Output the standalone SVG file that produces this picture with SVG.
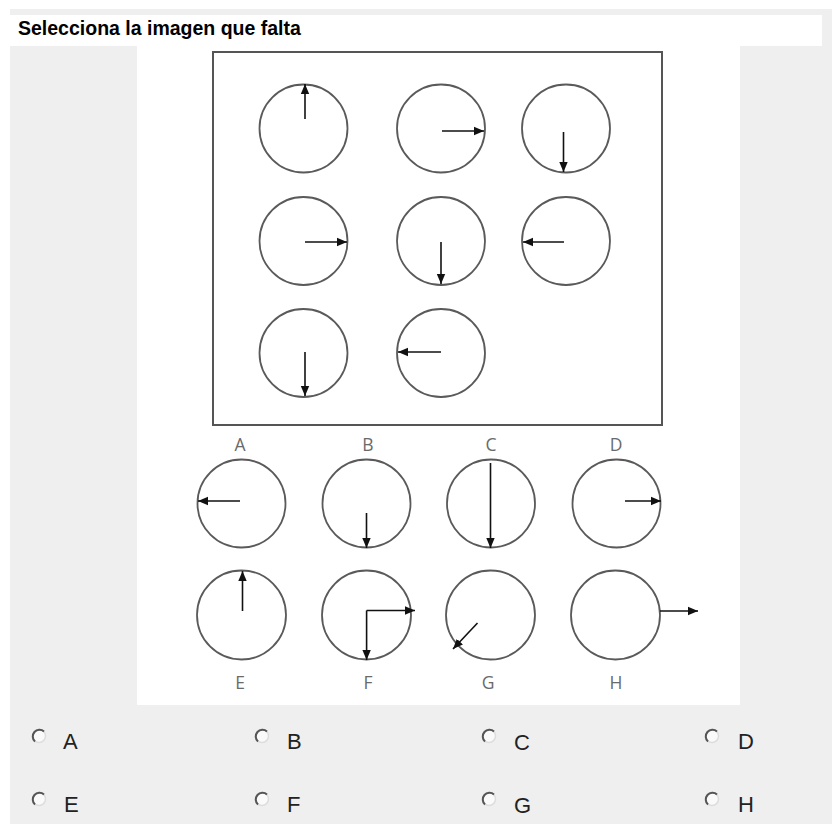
<svg xmlns="http://www.w3.org/2000/svg" width="837" height="824" viewBox="0 0 837 824">
<defs>
<marker id="ah" viewBox="0 0 10 10" refX="10" refY="5" markerWidth="10" markerHeight="10" markerUnits="userSpaceOnUse" orient="auto">
<path d="M0,0.8 L10,5 L0,9.2 z" fill="#111"/>
</marker>
<style>
.ring{fill:none;stroke:#5a5a5a;stroke-width:1.8}
.arr{stroke:#111;stroke-width:1.6;fill:none;marker-end:url(#ah)}
.frame{fill:none;stroke:#555;stroke-width:2}
.lbl{font-family:"Open Sans","Noto Sans",sans-serif;font-size:17.5px;fill:#6a6a6a;text-anchor:middle}
.opt{font-family:"Liberation Sans",Arial,sans-serif;font-size:22px;fill:#222}
.title{font-family:"Liberation Sans",Arial,sans-serif;font-size:19.5px;font-weight:bold;fill:#000}
.rb{fill:#fafafa;stroke:#ddd;stroke-width:1.5}
.rbd{fill:none;stroke:#555;stroke-width:2}
</style>
</defs>
<rect x="0" y="0" width="837" height="824" fill="#ffffff"/>
<rect x="10" y="9" width="822" height="815" fill="#efefef"/>
<rect x="10" y="15" width="812" height="31" fill="#ffffff"/>
<rect x="137" y="45" width="603" height="660" fill="#ffffff"/>
<text class="title" x="18" y="35">Selecciona la imagen que falta</text>
<rect class="frame" x="213" y="52" width="449" height="373"/>

<g id="g1"><circle class="ring" cx="303.5" cy="128.5" r="44"/><line class="arr" x1="305" y1="119" x2="305" y2="84"/></g>
<g id="g2"><circle class="ring" cx="441" cy="128.5" r="44"/><line class="arr" x1="442" y1="131" x2="484" y2="131"/></g>
<g id="g3"><circle class="ring" cx="566" cy="128.5" r="44"/><line class="arr" x1="563.5" y1="132" x2="563.5" y2="172"/></g>
<g id="g4"><circle class="ring" cx="303.5" cy="241" r="44"/><line class="arr" x1="305" y1="242" x2="347" y2="242"/></g>
<g id="g5"><circle class="ring" cx="441" cy="241" r="44"/><line class="arr" x1="441" y1="242" x2="441" y2="284"/></g>
<g id="g6"><circle class="ring" cx="566" cy="241" r="44"/><line class="arr" x1="564" y1="242" x2="523" y2="242"/></g>
<g id="g7"><circle class="ring" cx="303.5" cy="353" r="44"/><line class="arr" x1="305" y1="352" x2="305" y2="396"/></g>
<g id="g8"><circle class="ring" cx="441" cy="353" r="44"/><line class="arr" x1="441" y1="352" x2="398" y2="352"/></g>

<g id="optA"><text class="lbl" x="240" y="451">A</text><circle class="ring" cx="241.5" cy="503.5" r="44"/><line class="arr" x1="240" y1="501" x2="198" y2="501"/></g>
<g id="optB"><text class="lbl" x="368" y="451">B</text><circle class="ring" cx="366.5" cy="503.5" r="44"/><line class="arr" x1="366.5" y1="513" x2="366.5" y2="548"/></g>
<g id="optC"><text class="lbl" x="491" y="451">C</text><circle class="ring" cx="491" cy="503.5" r="44"/><line class="arr" x1="490.5" y1="463" x2="490.5" y2="548"/></g>
<g id="optD"><text class="lbl" x="616" y="451">D</text><circle class="ring" cx="616.5" cy="503.5" r="44"/><line class="arr" x1="625" y1="501" x2="661" y2="501"/></g>

<g id="optE"><circle class="ring" cx="241.5" cy="615" r="44.5"/><line class="arr" x1="242.5" y1="611" x2="242.5" y2="571"/><text class="lbl" x="240" y="689">E</text></g>
<g id="optF"><circle class="ring" cx="366.5" cy="615" r="44.5"/><line class="arr" x1="366.6" y1="610.5" x2="415" y2="610.5"/><line class="arr" x1="366.6" y1="610.5" x2="366.6" y2="660"/><text class="lbl" x="368" y="689">F</text></g>
<g id="optG"><circle class="ring" cx="490.5" cy="615" r="44.5"/><line class="arr" x1="477.5" y1="623" x2="453" y2="649"/><text class="lbl" x="488" y="689">G</text></g>
<g id="optH"><circle class="ring" cx="615.5" cy="615" r="44.5"/><line class="arr" x1="660" y1="611" x2="698" y2="611"/><text class="lbl" x="616" y="689">H</text></g>

<g id="radios">
<g id="rA"><circle class="rb" cx="39" cy="736" r="6.5"/><path class="rbd" d="M44,731.5 A6.5,6.5 0 1 0 35,741.5"/><text class="opt" x="63" y="749">A</text></g>
<g id="rB"><circle class="rb" cx="262" cy="736" r="6.5"/><path class="rbd" d="M267,731.5 A6.5,6.5 0 1 0 258,741.5"/><text class="opt" x="287" y="749">B</text></g>
<g id="rC"><circle class="rb" cx="489" cy="736" r="6.5"/><path class="rbd" d="M494,731.5 A6.5,6.5 0 1 0 485,741.5"/><text class="opt" x="514" y="750">C</text></g>
<g id="rD"><circle class="rb" cx="712" cy="736" r="6.5"/><path class="rbd" d="M717,731.5 A6.5,6.5 0 1 0 708,741.5"/><text class="opt" x="738" y="749">D</text></g>
<g id="rE"><circle class="rb" cx="39" cy="799" r="6.5"/><path class="rbd" d="M44,794.5 A6.5,6.5 0 1 0 35,804.5"/><text class="opt" x="64" y="812">E</text></g>
<g id="rF"><circle class="rb" cx="262" cy="799" r="6.5"/><path class="rbd" d="M267,794.5 A6.5,6.5 0 1 0 258,804.5"/><text class="opt" x="287" y="812">F</text></g>
<g id="rG"><circle class="rb" cx="489" cy="799" r="6.5"/><path class="rbd" d="M494,794.5 A6.5,6.5 0 1 0 485,804.5"/><text class="opt" x="514" y="813">G</text></g>
<g id="rH"><circle class="rb" cx="712" cy="799" r="6.5"/><path class="rbd" d="M717,794.5 A6.5,6.5 0 1 0 708,804.5"/><text class="opt" x="738" y="812">H</text></g>
</g>
</svg>
